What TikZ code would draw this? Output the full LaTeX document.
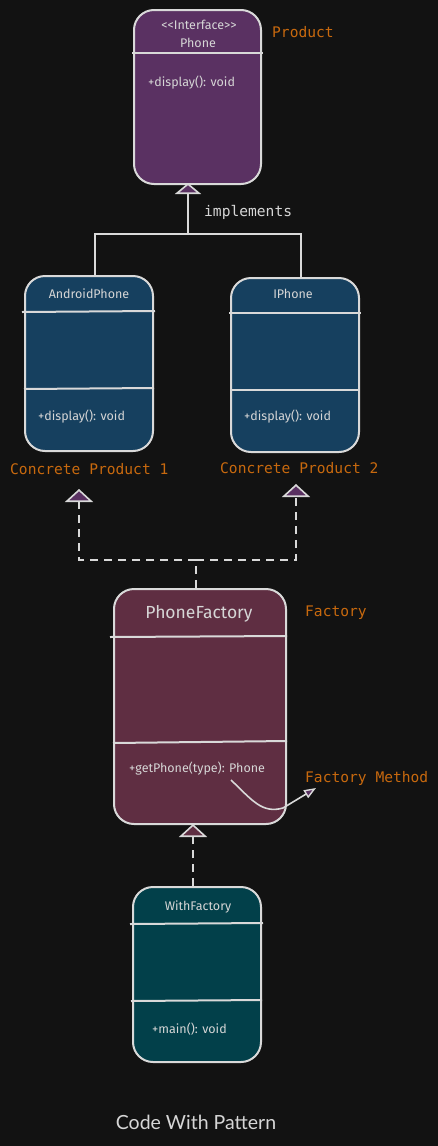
\documentclass[tikz,border=0pt]{standalone}
\usepackage{fontspec}
\usetikzlibrary{arrows.meta}
\newfontfamily\handf{Fira Sans}
\newfontfamily\monof{DejaVu Sans Mono}
\newfontfamily\titlef{Lato}
\definecolor{bg}{HTML}{121212}
\definecolor{ln}{HTML}{D9D9D9}
\definecolor{txt}{HTML}{D6D6D6}
\definecolor{purp}{HTML}{5A3162}
\definecolor{blu}{HTML}{16405F}
\definecolor{maro}{HTML}{5F2E42}
\definecolor{teal}{HTML}{02404A}
\definecolor{orng}{HTML}{C8690E}
\tikzset{
  cls/.style={draw=ln, line width=2pt, rounded corners=20pt, inner sep=0pt},
  div/.style={draw=ln, line width=2pt},
  htxt/.style={text=txt, font=\handf\fontsize{12.5}{14}\selectfont, inner sep=0pt},
  mtd/.style={htxt, anchor=west},
  lbl/.style={text=orng, font=\monof\fontsize{14.6}{16}\selectfont, inner sep=0pt, anchor=west},
  conn/.style={draw=ln, line width=2pt},
  dconn/.style={conn, dash pattern=on 8pt off 6pt},
}
\begin{document}
\begin{tikzpicture}[x=1pt,y=-1pt]
\fill[bg] (0,0) rectangle (438,1146);
\useasboundingbox (0,0) rectangle (438,1146);

% classes
\node[cls, fill=purp, minimum width=127pt, minimum height=174pt] (phone) at (197.5,97) {};
\node[cls, fill=blu, minimum width=128pt, minimum height=175pt] (android) at (89,363.5) {};
\node[cls, fill=blu, minimum width=128pt, minimum height=174pt] (iphone) at (295,365) {};
\node[cls, fill=maro, minimum width=172pt, minimum height=235pt] (pf) at (200,706.5) {};
\node[cls, fill=teal, minimum width=128pt, minimum height=175pt] (wf) at (197,974.5) {};

% dividers
\draw[div] ([xshift=-1pt]phone.west |- 0,53) -- ([xshift=1pt]phone.east |- 0,53);
\draw[div] ([xshift=-2pt]android.west |- 0,312) -- ([xshift=1pt]android.east |- 0,311);
\draw[div] (android.west |- 0,389) -- (android.east |- 0,388);
\draw[div] ([xshift=-1pt]iphone.west |- 0,313) -- ([xshift=1pt]iphone.east |- 0,313);
\draw[div] (iphone.west |- 0,390) -- (iphone.east |- 0,390);
\draw[div] ([xshift=-3pt]pf.west |- 0,637) -- (pf.east |- 0,636);
\draw[div] (pf.west |- 0,743) -- (pf.east |- 0,741);
\draw[div] ([xshift=-2pt]wf.west |- 0,924) -- ([xshift=1pt]wf.east |- 0,923);
\draw[div] ([xshift=-1pt]wf.west |- 0,1001) -- (wf.east |- 0,1000);

% class texts
\node[htxt] (phst) at (199,25) {<<Interface>>};
\node[htxt] (phnm) at (198,43) {Phone};
\node[mtd] (phm) at (148,83) {+display(): void};
\node[htxt] (annm) at (89,294) {AndroidPhone};
\node[mtd] (anm) at (38,417) {+display(): void};
\node[htxt] (ipnm) at (293,294) {IPhone};
\node[mtd] (ipm) at (244,417) {+display(): void};
\node[htxt, font=\handf\fontsize{17.5}{19}\selectfont] (pfnm) at (199,614) {PhoneFactory};
\node[mtd] (pfm) at (129,769) {+getPhone(type): Phone};
\node[htxt] (wfnm) at (198,907) {WithFactory};
\node[mtd] (wfm) at (152,1029) {+main(): void};

% orange labels
\node[lbl] (lprod) at (272,32) {Product};
\node[lbl] (lcp1) at (10,469) {Concrete Product 1};
\node[lbl] (lcp2) at (220,468) {Concrete Product 2};
\node[lbl] (lfac) at (305,613) {Factory};
\node[lbl] (lfm) at (305,778) {Factory Method};

% implements
\node[text=txt, font=\monof\fontsize{14.6}{16}\selectfont, inner sep=0pt, anchor=west] (impl) at (204,212) {implements};
\coordinate (j) at (188,234);
\draw[conn] ([xshift=6pt]android.north) |- (j);
\draw[conn] ([xshift=6pt]iphone.north) |- (j);
\draw[conn, -{Triangle[width=26pt,length=11pt,fill=purp,line width=1.6pt]}] (j) -- ([xshift=-9.5pt,yshift=2pt]phone.south);

% factory creates concrete products
\coordinate (d) at (196,560);
\coordinate (t1) at (79,489);
\coordinate (t2) at (296,484);
\draw[dconn] ([xshift=-4pt]pf.north) -- (d);
\draw[dconn, -{Triangle[width=28pt,length=13pt,fill=purp,line width=1.6pt]}] (d) -| (t1);
\draw[dconn, -{Triangle[width=28pt,length=13pt,fill=purp,line width=1.6pt]}] (d) -| (t2);

% withfactory uses phonefactory
\draw[dconn, -{Triangle[width=28pt,length=13pt,fill=maro,line width=1.6pt]}] ([xshift=-4pt]wf.north) -- ([xshift=-7pt,yshift=1pt]pf.south);

% factory method pointer
\coordinate (fmstart) at (231,780);
\coordinate (fmtip) at (316,788);
\draw[conn, line width=1.6pt, -{Triangle[width=9pt,length=12pt,fill=purp,line width=1.4pt]}] (fmstart) .. controls (252,800) and (262,814) .. (283,808) -- (fmtip);

% title
\node[text=txt, font=\titlef\fontsize{19.5}{21}\selectfont, inner sep=0pt] (ttl) at (196,1122) {Code With Pattern};
\end{tikzpicture}
\end{document}
